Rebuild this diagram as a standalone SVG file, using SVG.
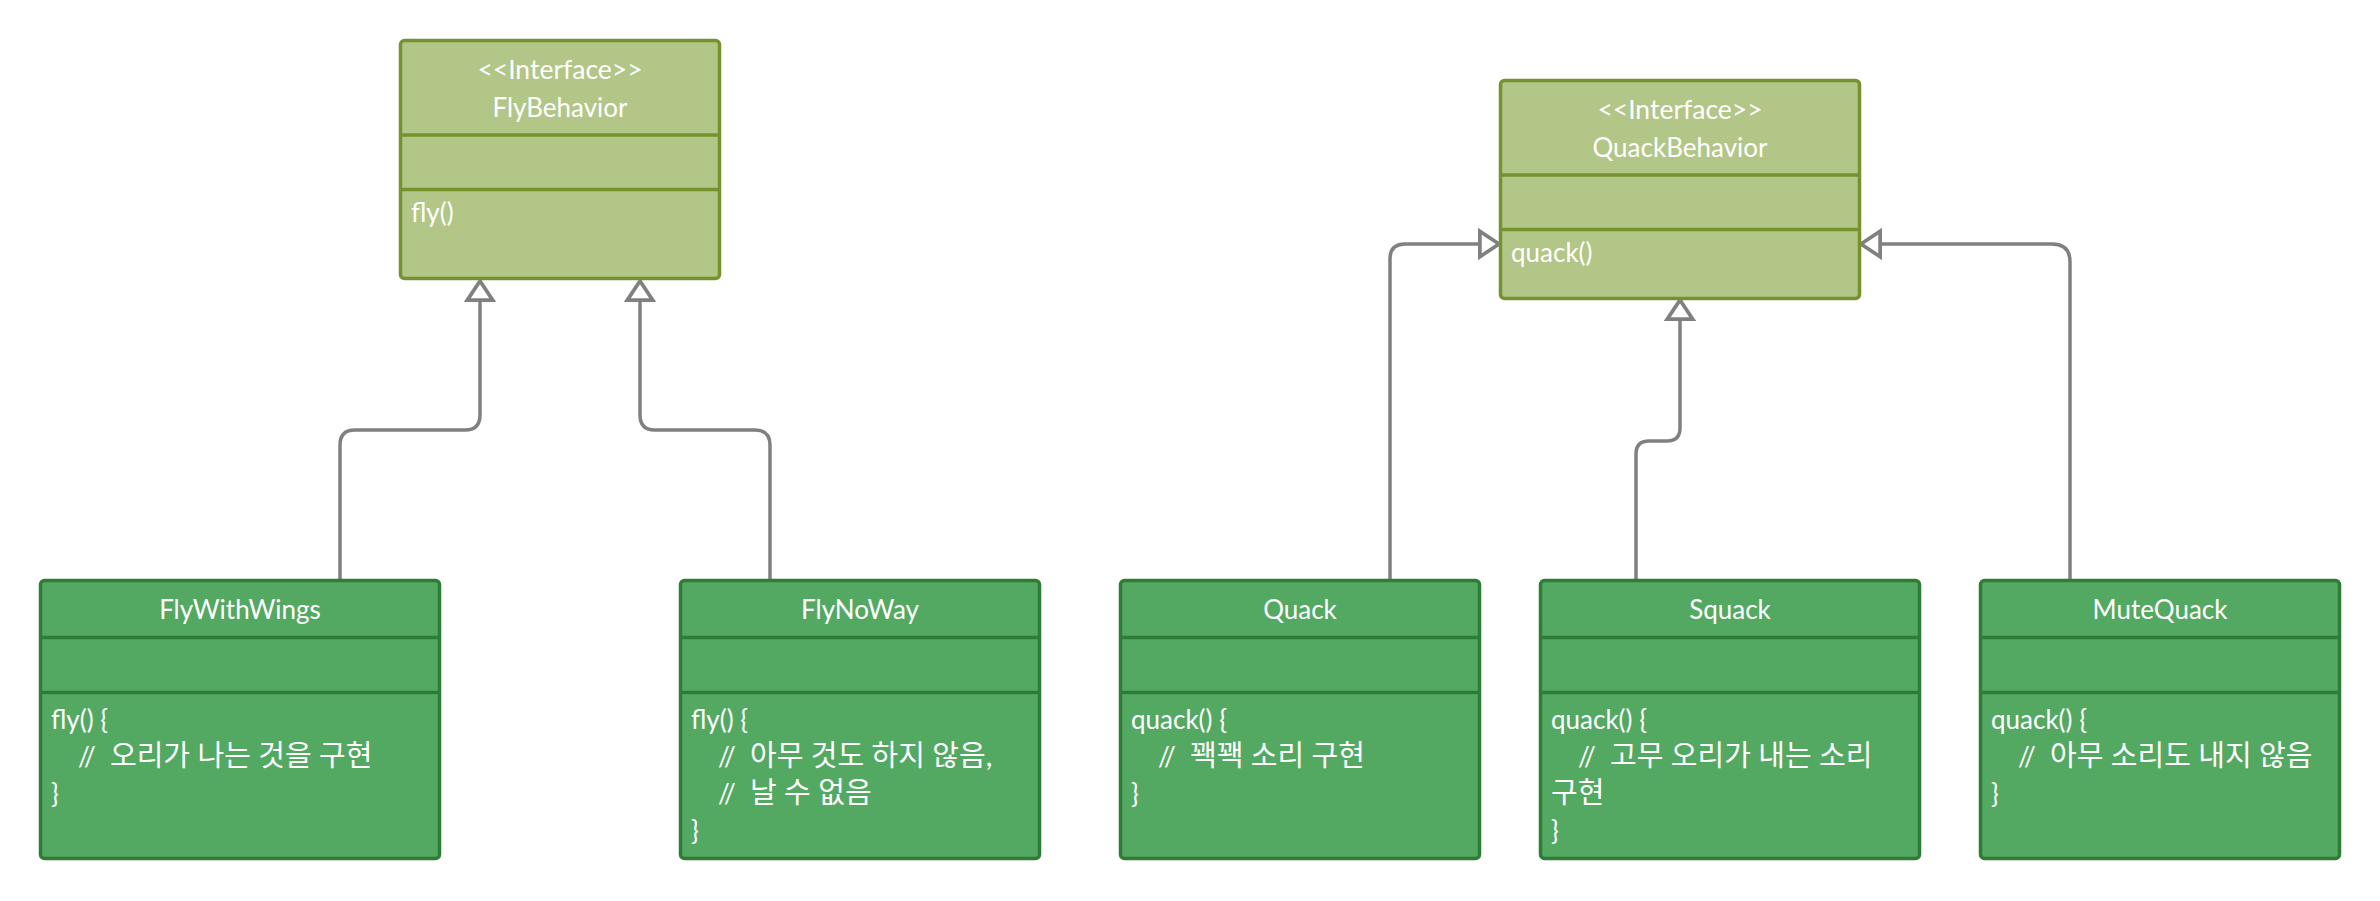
<svg xmlns="http://www.w3.org/2000/svg" width="2380" height="901" viewBox="0 0 2380 901">
<style>
text{font-family:Lato,"Noto Sans","Noto Sans CJK KR",sans-serif;fill:#ffffff;font-size:26px}
.c{text-anchor:middle}
.st{font-size:26.5px}
.k{font-size:29px}
.ibox{fill:#b2c687;stroke:#76922f;stroke-width:3.5}
.iline{stroke:#76922f;stroke-width:3.5}
.gbox{fill:#54a962;stroke:#2e7d36;stroke-width:3.5}
.gline{stroke:#2e7d36;stroke-width:3.5}
.conn{fill:none;stroke:#808080;stroke-width:3.5;marker-end:url(#tri)}
</style>
<defs>
<marker id="tri" markerUnits="userSpaceOnUse" markerWidth="30" markerHeight="34" viewBox="-4 -16 26 32" refX="18" refY="0" orient="auto" overflow="visible">
<path d="M0,-12 L18,0 L0,12 Z" fill="#ffffff" stroke="#808080" stroke-width="3.5" stroke-linejoin="miter"/>
</marker>
</defs>
<rect width="2380" height="901" fill="#ffffff"/>
<g id="connectors">
<path class="conn" d="M340,579 V445 Q340,430 355,430 H465 Q480,430 480,415 V281"/>
<path class="conn" d="M770,579 V445 Q770,430 755,430 H655 Q640,430 640,415 V281"/>
<path class="conn" d="M1390,579 V259 Q1390,244 1405,244 H1499"/>
<path class="conn" d="M1636,579 V454 Q1636,441 1649,441 H1667 Q1680,441 1680,428 V300"/>
<path class="conn" d="M2070,579 V262 Q2070,244 2052,244 H1861"/>
</g>
<g id="FlyBehavior">
<rect class="ibox" x="400.5" y="40.5" width="319" height="238" rx="4"/>
<line class="iline" x1="400.5" y1="135" x2="719.5" y2="135"/>
<line class="iline" x1="400.5" y1="189.5" x2="719.5" y2="189.5"/>
<text class="c st" x="560" y="79">&lt;&lt;Interface&gt;&gt;</text>
<text class="c" x="560" y="117">FlyBehavior</text>
<text x="411" y="222">fly()</text>
</g>
<g id="QuackBehavior">
<rect class="ibox" x="1500.5" y="80.5" width="359" height="218" rx="4"/>
<line class="iline" x1="1500.5" y1="175" x2="1859.5" y2="175"/>
<line class="iline" x1="1500.5" y1="229.5" x2="1859.5" y2="229.5"/>
<text class="c st" x="1680" y="119">&lt;&lt;Interface&gt;&gt;</text>
<text class="c" x="1680" y="157">QuackBehavior</text>
<text x="1511" y="262">quack()</text>
</g>
<g id="FlyWithWings">
<rect class="gbox" x="40.5" y="580.5" width="399" height="278" rx="4"/>
<line class="gline" x1="40.5" y1="637.5" x2="439.5" y2="637.5"/>
<line class="gline" x1="40.5" y1="692.5" x2="439.5" y2="692.5"/>
<text class="c" x="240" y="619">FlyWithWings</text>
<text x="51" y="729">fly() {</text>
<text y="766"><tspan x="78">//</tspan><tspan class="k" x="110">오리가 나는 것을 구현</tspan></text>
<text x="51" y="803">}</text>
</g>
<g id="FlyNoWay">
<rect class="gbox" x="680.5" y="580.5" width="359" height="278" rx="4"/>
<line class="gline" x1="680.5" y1="637.5" x2="1039.5" y2="637.5"/>
<line class="gline" x1="680.5" y1="692.5" x2="1039.5" y2="692.5"/>
<text class="c" x="860" y="619">FlyNoWay</text>
<text x="691" y="729">fly() {</text>
<text y="766"><tspan x="718">//</tspan><tspan class="k" x="750">아무 것도 하지 않음,</tspan></text>
<text y="803"><tspan x="718">//</tspan><tspan class="k" x="750">날 수 없음</tspan></text>
<text x="691" y="840">}</text>
</g>
<g id="Quack">
<rect class="gbox" x="1120.5" y="580.5" width="359" height="278" rx="4"/>
<line class="gline" x1="1120.5" y1="637.5" x2="1479.5" y2="637.5"/>
<line class="gline" x1="1120.5" y1="692.5" x2="1479.5" y2="692.5"/>
<text class="c" x="1300" y="619">Quack</text>
<text x="1131" y="729">quack() {</text>
<text y="766"><tspan x="1158">//</tspan><tspan class="k" x="1190">꽥꽥 소리 구현</tspan></text>
<text x="1131" y="803">}</text>
</g>
<g id="Squack">
<rect class="gbox" x="1540.5" y="580.5" width="379" height="278" rx="4"/>
<line class="gline" x1="1540.5" y1="637.5" x2="1919.5" y2="637.5"/>
<line class="gline" x1="1540.5" y1="692.5" x2="1919.5" y2="692.5"/>
<text class="c" x="1730" y="619">Squack</text>
<text x="1551" y="729">quack() {</text>
<text y="766"><tspan x="1578">//</tspan><tspan class="k" x="1610">고무 오리가 내는 소리</tspan></text>
<text class="k" x="1551" y="803">구현</text>
<text x="1551" y="840">}</text>
</g>
<g id="MuteQuack">
<rect class="gbox" x="1980.5" y="580.5" width="359" height="278" rx="4"/>
<line class="gline" x1="1980.5" y1="637.5" x2="2339.5" y2="637.5"/>
<line class="gline" x1="1980.5" y1="692.5" x2="2339.5" y2="692.5"/>
<text class="c" x="2160" y="619">MuteQuack</text>
<text x="1991" y="729">quack() {</text>
<text y="766"><tspan x="2018">//</tspan><tspan class="k" x="2050">아무 소리도 내지 않음</tspan></text>
<text x="1991" y="803">}</text>
</g>
</svg>
